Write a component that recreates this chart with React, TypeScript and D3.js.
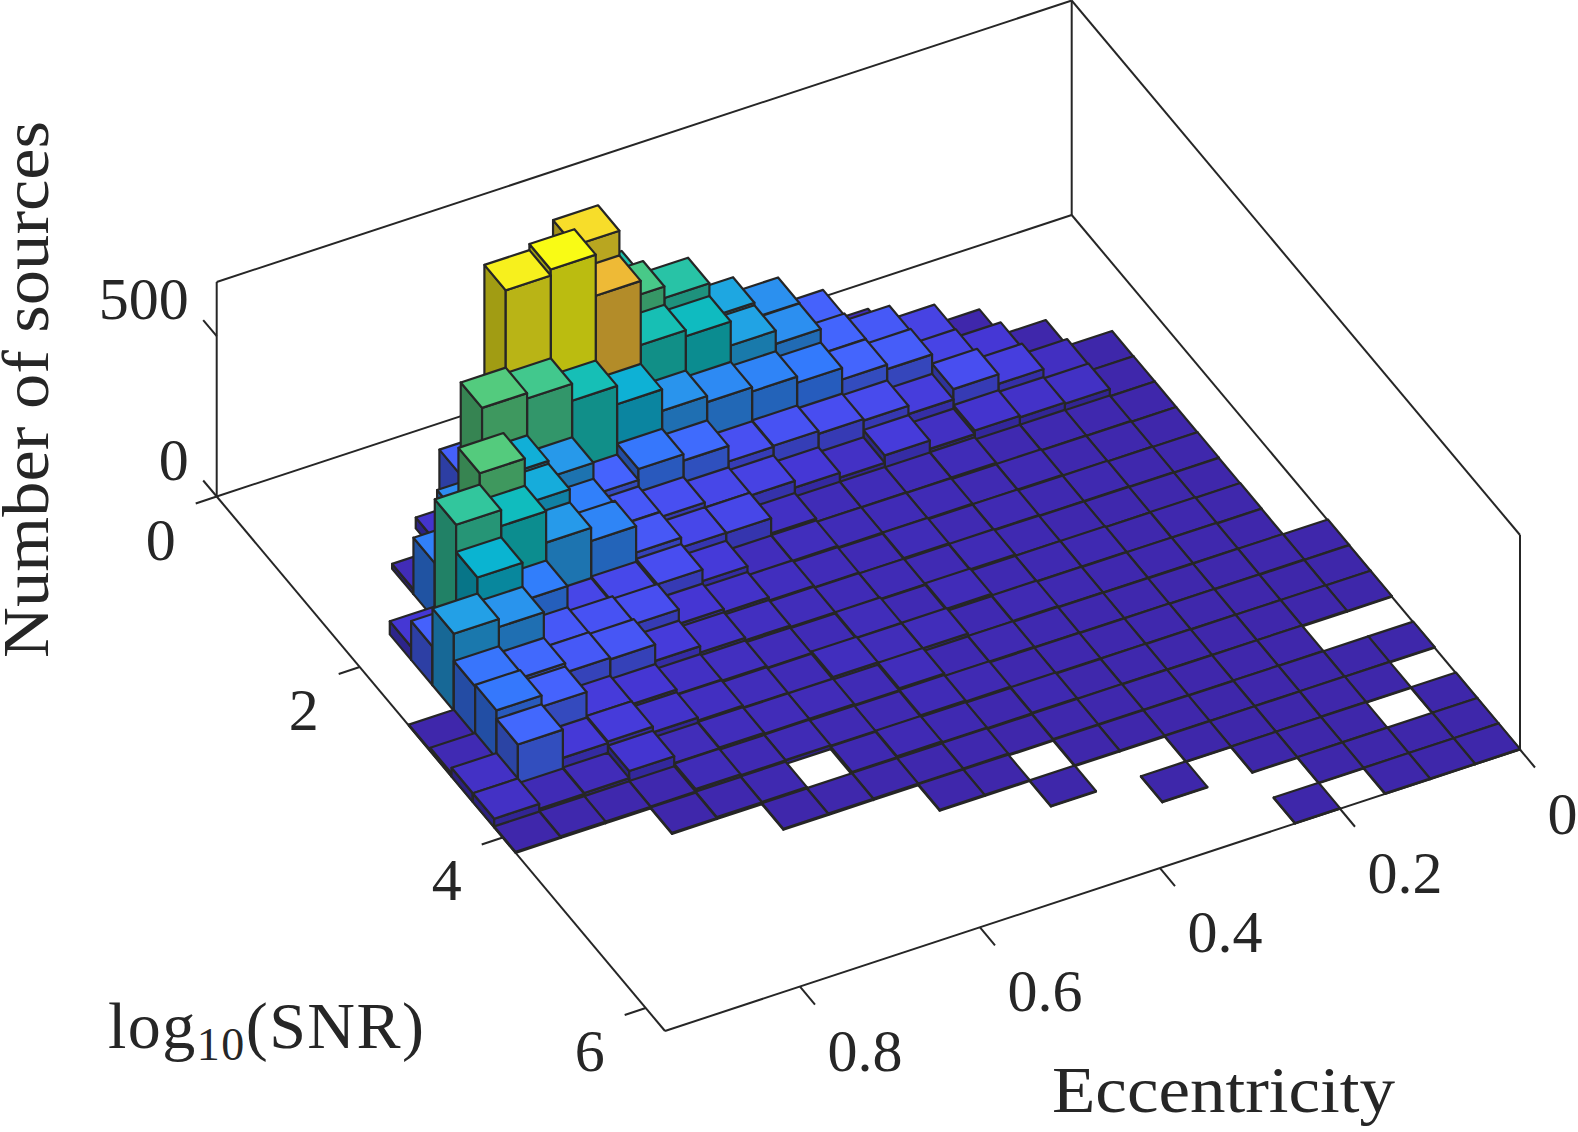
import * as d3 from 'd3'

// counts per eccentricity bin (0.05 wide), each list runs over 21 log10(SNR) bins; 0 = no bar
const e00 = [0, 0, 0, 0, 0, 0, 0, 0, 0, 0, 0, 0, 3, 2, 2, 0, 2, 0, 2, 2, 2]
const e01 = [0, 0, 0, 0, 2, 3, 3, 3, 4, 3, 4, 3, 4, 2, 3, 0, 2, 2, 0, 2, 2]
const e02 = [0, 0, 0, 3, 23, 26, 6, 5, 5, 4, 6, 5, 4, 3, 3, 3, 2, 3, 2, 2, 2]
const e03 = [0, 0, 3, 42, 55, 30, 7, 6, 7, 5, 5, 6, 4, 4, 3, 3, 3, 2, 2, 2, 0]
const e04 = [0, 0, 64, 67, 85, 35, 7, 10, 7, 6, 8, 6, 5, 5, 4, 3, 2, 2, 2, 0, 2]
const e05 = [0, 18, 107, 114, 53, 24, 14, 9, 10, 8, 8, 7, 6, 5, 5, 4, 3, 2, 0, 0, 0]
const e06 = [0, 123, 129, 128, 79, 50, 13, 12, 9, 12, 8, 10, 7, 6, 4, 5, 3, 0, 2, 0, 0]
const e07 = [0, 208, 206, 164, 84, 27, 14, 13, 14, 10, 15, 8, 9, 6, 8, 5, 3, 0, 0, 0, 0]
const e08 = [0, 255, 247, 183, 93, 42, 14, 14, 11, 12, 10, 17, 8, 10, 6, 3, 0, 2, 0, 0, 0]
const e09 = [0, 362, 322, 196, 90, 63, 25, 19, 15, 13, 17, 16, 18, 13, 8, 6, 3, 0, 0, 0, 0]
const e10 = [350, 398, 341, 215, 139, 72, 72, 18, 20, 17, 13, 20, 12, 9, 11, 5, 3, 0, 0, 0, 0]
const e11 = [0, 618, 541, 282, 159, 88, 73, 48, 30, 22, 15, 13, 15, 10, 8, 5, 0, 0, 0, 0, 0]
const e12 = [0, 200, 669, 339, 125, 105, 104, 84, 40, 30, 21, 17, 15, 12, 0, 4, 0, 0, 0, 0, 0]
const e13 = [0, 0, 650, 392, 225, 175, 186, 75, 85, 50, 25, 23, 18, 11, 7, 3, 0, 0, 0, 0, 0]
const e14 = [0, 0, 120, 409, 277, 268, 227, 70, 93, 101, 40, 32, 16, 14, 6, 0, 0, 0, 0, 0, 0]
const e15 = [0, 0, 0, 34, 199, 410, 325, 171, 105, 106, 50, 50, 37, 6, 3, 0, 0, 0, 0, 0, 0]
const e16 = [0, 0, 0, 0, 15, 176, 375, 290, 215, 135, 125, 45, 15, 5, 0, 0, 0, 0, 0, 0, 0]
const e17 = [0, 0, 0, 0, 0, 0, 41, 121, 240, 155, 160, 133, 12, 5, 0, 0, 0, 0, 0, 0, 0]
const e18 = [0, 0, 0, 0, 0, 0, 0, 0, 0, 3, 10, 27, 27, 3, 0, 0, 0, 0, 0, 0, 0]
const counts = [e00, e01, e02, e03, e04, e05, e06, e07, e08, e09, e10, e11, e12, e13, e14, e15, e16, e17, e18]

const eTicks = [0, 0.2, 0.4, 0.6, 0.8]
const snrTicks = [0, 2, 4, 6]
const zTicks = [0, 500]

const eMax = 0.95
const snrMax = 6.27
const zMax = 669
const eBin = eMax / counts.length
const snrBin = snrMax / e00.length

// MATLAB parula, sampled
const parula = [
  '#3e26a8', '#4537d5', '#484df0', '#4563fd', '#327cfc', '#2b91ef', '#20a5e3', '#08b5d0',
  '#12beb9', '#33c69c', '#5ccc75', '#94ca4a', '#c8c129', '#f1ba37', '#fec933', '#f5e327', '#f9fb15',
]
const color = d3
  .scaleLinear<string>()
  .domain(parula.map((_, i) => (i / (parula.length - 1)) * zMax))
  .range(parula)
  .interpolate(d3.interpolateRgb)

const ex = d3.scaleLinear().domain([0, eMax]).range([1071.7, 216.7])
const ey = d3.scaleLinear().domain([0, eMax]).range([215, 496.5])
const sx = d3.scaleLinear().domain([0, snrMax]).range([0, 448.3])
const sy = d3.scaleLinear().domain([0, snrMax]).range([0, 534.5])
const zy = d3.scaleLinear().domain([0, zMax]).range([0, -214.5])

const project = (e: number, s: number, z: number): [number, number] => [ex(e) + sx(s), ey(e) + sy(s) + zy(z)]
const line = d3.line()

const ink = '#262626'
const serif = '"Liberation Serif", serif'

function shade(c: string, k: number) {
  const r = d3.rgb(c)
  return d3.rgb(r.r * k, r.g * k, r.b * k).formatHex()
}

function Seg({ a, b }: { a: [number, number]; b: [number, number] }) {
  return <line x1={a[0]} y1={a[1]} x2={b[0]} y2={b[1]} stroke={ink} strokeWidth={2} />
}

function Bar({ i, j, z }: { i: number; j: number; z: number }) {
  const e0 = i * eBin
  const e1 = (i + 1) * eBin
  const s0 = j * snrBin
  const s1 = (j + 1) * snrBin
  const c = color(z)
  const left = [project(e1, s0, 0), project(e1, s1, 0), project(e1, s1, z), project(e1, s0, z)]
  const right = [project(e1, s1, 0), project(e0, s1, 0), project(e0, s1, z), project(e1, s1, z)]
  const top = [project(e0, s0, z), project(e0, s1, z), project(e1, s1, z), project(e1, s0, z)]
  const common = { stroke: ink, strokeWidth: 2.2, strokeLinejoin: 'round' as const }
  return (
    <g>
      <path d={line(left) + 'Z'} fill={shade(c, 0.65)} {...common} />
      <path d={line(right) + 'Z'} fill={shade(c, 0.75)} {...common} />
      <path d={line(top) + 'Z'} fill={c} {...common} />
    </g>
  )
}

export default function App() {
  const A = project(eMax, 0, 0)
  const B = project(0, 0, 0)
  const C = project(0, snrMax, 0)
  const D = project(eMax, snrMax, 0)
  const At = project(eMax, 0, zMax)
  const Bt = project(0, 0, zMax)
  const Ct = project(0, snrMax, zMax)

  const txt = { fontFamily: serif, fontSize: 60, fill: ink }

  return (
    <svg width={1578} height={1132} style={{ position: 'absolute', left: 0, top: 0, background: '#fff' }}>
      <Seg a={A} b={B} />
      <Seg a={B} b={C} />
      <Seg a={A} b={D} />
      <Seg a={D} b={C} />
      <Seg a={A} b={At} />
      <Seg a={B} b={Bt} />
      <Seg a={C} b={Ct} />
      <Seg a={At} b={Bt} />
      <Seg a={Bt} b={Ct} />

      {zTicks.map((t) => {
        const p = project(eMax, 0, t)
        return <Seg key={t} a={p} b={[p[0] - 13.5, p[1] - 16]} />
      })}
      {snrTicks.map((t) => {
        const p = project(eMax, t, 0)
        return <Seg key={t} a={p} b={[p[0] - 21, p[1] + 7]} />
      })}
      {eTicks.map((t) => {
        const p = project(t, snrMax, 0)
        return <Seg key={t} a={p} b={[p[0] + 15, p[1] + 18]} />
      })}

      {counts.map((row, i) =>
        row.map((z, j) => (z > 0 ? <Bar key={`${i}-${j}`} i={i} j={j} z={z} /> : null)),
      )}

      {zTicks.map((t) => {
        const p = project(eMax, 0, t)
        return (
          <text key={t} x={p[0] - 28} y={p[1] - 17} {...txt} textAnchor="end">
            {t}
          </text>
        )
      })}
      {snrTicks.map((t) => {
        const p = project(eMax, t, 0)
        return (
          <text key={t} x={p[0] - 56} y={p[1] + 63} {...txt} textAnchor="middle">
            {t}
          </text>
        )
      })}
      {eTicks.map((t) => {
        const p = project(t, snrMax, 0)
        return (
          <text key={t} x={p[0] + 27.5} y={p[1] + 84} {...txt} textAnchor="start">
            {t}
          </text>
        )
      })}

      <text
        transform="translate(48,658) rotate(-90)"
        fontFamily={serif}
        fontSize={66}
        fill={ink}
        textLength={537}
        lengthAdjust="spacingAndGlyphs"
      >
        Number of sources
      </text>
      <text x={1052} y={1112} fontFamily={serif} fontSize={66} fill={ink} textLength={343} lengthAdjust="spacingAndGlyphs">
        Eccentricity
      </text>
      <text x={108} y={1048} fontFamily={serif} fontSize={66} fill={ink} textLength={316} lengthAdjust="spacing">
        log<tspan fontSize={46} dy={12}>10</tspan>
        <tspan dy={-12}>(SNR)</tspan>
      </text>
    </svg>
  )
}
